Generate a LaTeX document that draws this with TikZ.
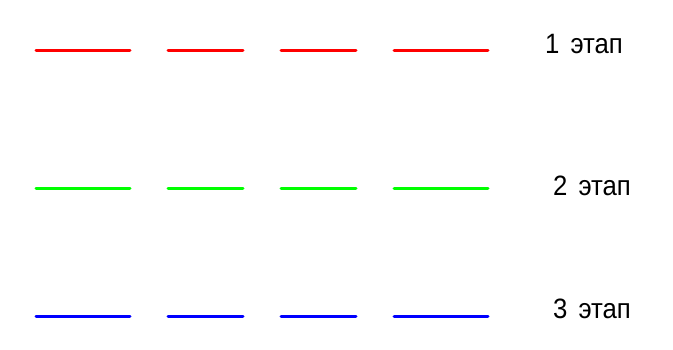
\documentclass[tikz,border=0pt]{standalone}
\usepackage{fontspec}
\setmainfont{Liberation Sans}
\begin{document}
\begin{tikzpicture}[x=1pt,y=-1pt,
  seg/.style={line width=3pt,line cap=round},
  lbl/.style={anchor=west,inner sep=0pt,font=\fontsize{28}{30}\selectfont,xscale=0.92}]
\useasboundingbox (0,0) rectangle (673,349);
\definecolor{cred}{RGB}{255,0,0}
\definecolor{cgreen}{RGB}{0,255,0}
\definecolor{cblue}{RGB}{0,0,255}
\foreach \y/\c in {50/cred,188/cgreen,316/cblue}{
  \draw[seg,\c] (36,\y) -- (130,\y);
  \draw[seg,\c] (168,\y) -- (243,\y);
  \draw[seg,\c] (281,\y) -- (356,\y);
  \draw[seg,\c] (394,\y) -- (488,\y);
}
\node[lbl] (l1) at (545,44) {1\hspace{12pt}этап};
\node[lbl] (l2) at (553,186) {2\hspace{12pt}этап};
\node[lbl] (l3) at (553,309) {3\hspace{12pt}этап};
\end{tikzpicture}
\end{document}
